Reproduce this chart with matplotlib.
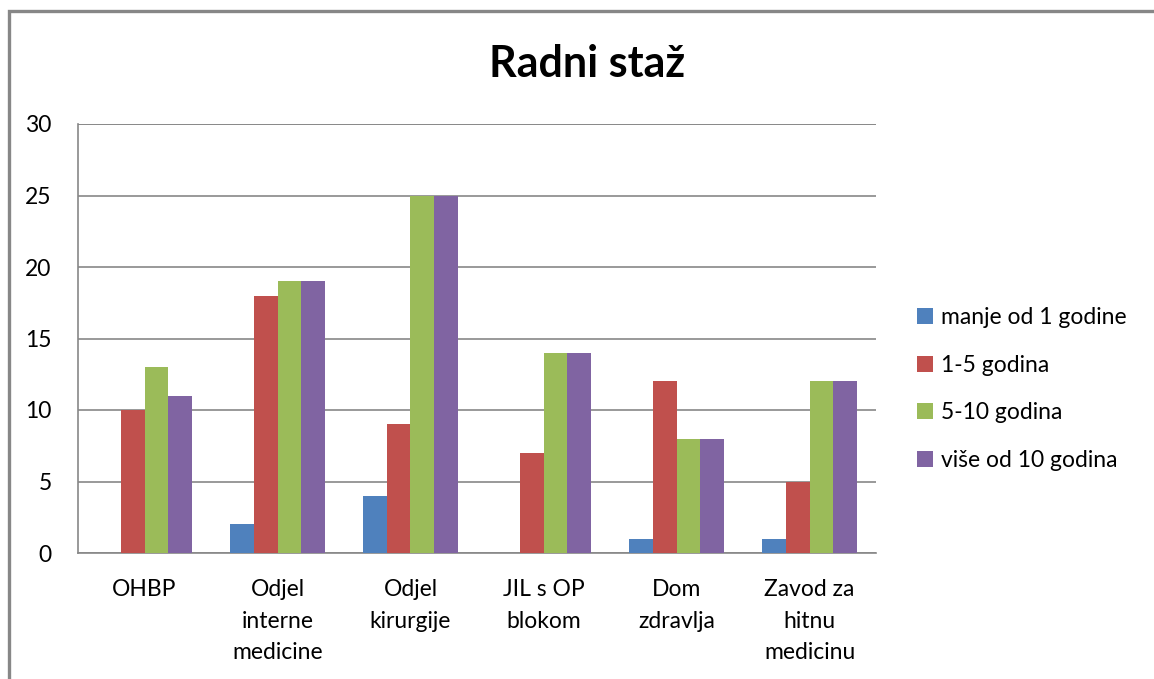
import matplotlib.pyplot as plt
from matplotlib.patches import Rectangle
import numpy as np

plt.rcParams['font.family'] = ['Lato', 'DejaVu Sans']

# ======== 数据 ========
categories = ["OHBP", "Odjel\ninterne\nmedicine", "Odjel\nkirurgije", "JIL s OP\nblokom",
              "Dom\nzdravlja", "Zavod za\nhitnu\nmedicinu"]
series_names = ["manje od 1 godine", "1-5 godina", "5-10 godina", "više od 10 godina"]
manje_od_1 = [0, 2, 4, 0, 1, 1]
godina_1_5 = [10, 18, 9, 7, 12, 5]
godina_5_10 = [13, 19, 25, 14, 8, 12]
vise_od_10 = [11, 19, 25, 14, 8, 12]
colors = ["#4F81BD", "#C0504D", "#9BBB59", "#8064A2"]

W, H = 1154, 679
fig = plt.figure(figsize=(W / 100, H / 100), dpi=100)

# 外框
fig.patches.append(Rectangle((9 / W, -0.1), 1.2, 1 - 11 / H + 0.1, transform=fig.transFigure,
                             fill=False, edgecolor="#878787", linewidth=2.4))

ax = fig.add_axes([78 / W, 1 - 553 / H, (876 - 78) / W, (553 - 124) / H])

x = np.arange(len(categories))
bw = 0.18
all_series = [manje_od_1, godina_1_5, godina_5_10, vise_od_10]
for i, (vals, name, c) in enumerate(zip(all_series, series_names, colors)):
    ax.bar(x + (i - 1.5) * bw, vals, width=bw, color=c, label=name, zorder=3)

ax.set_xlim(-0.5, len(categories) - 0.5)
ax.set_ylim(0, 30)
ax.set_yticks(range(0, 31, 5))
ax.set_xticks(x)
ax.set_xticklabels(categories, fontsize=16.5, linespacing=1.62)
ax.tick_params(axis="y", labelsize=16.5, length=0, pad=19)
ax.tick_params(axis="x", length=0, pad=19)
ax.yaxis.grid(True, color="#878787", linewidth=1.2, zorder=0)
for side in ["top", "right"]:
    ax.spines[side].set_visible(False)
for side in ["left", "bottom"]:
    ax.spines[side].set_color("#878787")
    ax.spines[side].set_linewidth(1.2)
# 上边线
ax.axhline(30, color="#878787", linewidth=1.2, zorder=0)

fig.text(587 / W, 1 - 64 / H, "Radni staž", ha="center", va="center",
         fontsize=31, fontweight="bold")

fig.legend(loc="center left", bbox_to_anchor=(896 / W, 1 - 389 / H), frameon=False,
           fontsize=16.5, handlelength=0.7, handleheight=0.7, handletextpad=0.35,
           labelspacing=1.17)

fig.savefig("out.png", dpi=100)
